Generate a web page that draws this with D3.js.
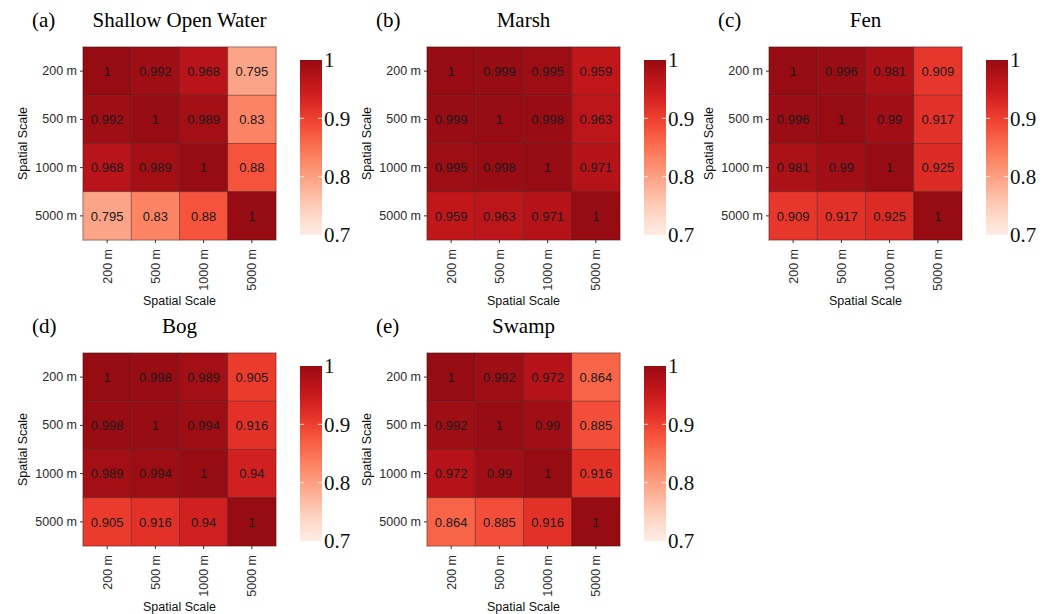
<!DOCTYPE html>
<html>
<head>
<meta charset="utf-8">
<script src="https://cdn.jsdelivr.net/npm/d3@7"></script>
<style>
  body { margin: 0; background: #fff; }
</style>
</head>
<body>
<div id="chart"></div>
<script>
// Spatial scales (rows and columns of each matrix)
const scales = ["200 m", "500 m", "1000 m", "5000 m"];

// Correlation matrices
const shallowOpenWater = [
  [1, 0.992, 0.968, 0.795],
  [0.992, 1, 0.989, 0.83],
  [0.968, 0.989, 1, 0.88],
  [0.795, 0.83, 0.88, 1]
];
const marsh = [
  [1, 0.999, 0.995, 0.959],
  [0.999, 1, 0.998, 0.963],
  [0.995, 0.998, 1, 0.971],
  [0.959, 0.963, 0.971, 1]
];
const fen = [
  [1, 0.996, 0.981, 0.909],
  [0.996, 1, 0.99, 0.917],
  [0.981, 0.99, 1, 0.925],
  [0.909, 0.917, 0.925, 1]
];
const bog = [
  [1, 0.998, 0.989, 0.905],
  [0.998, 1, 0.994, 0.916],
  [0.989, 0.994, 1, 0.94],
  [0.905, 0.916, 0.94, 1]
];
const swamp = [
  [1, 0.992, 0.972, 0.864],
  [0.992, 1, 0.99, 0.885],
  [0.972, 0.99, 1, 0.916],
  [0.864, 0.885, 0.916, 1]
];

const panelLabels = ["(a)", "(b)", "(c)", "(d)", "(e)"];
const panelTitles = ["Shallow Open Water", "Marsh", "Fen", "Bog", "Swamp"];
const matrices = [shallowOpenWater, marsh, fen, bog, swamp];
const legendTicks = [0.7, 0.8, 0.9, 1];

// Layout
const width = 1051, height = 614;
const size = 193;
const colLeft = [83, 427, 769];
const rowTop = [47, 353];
const sans = "'Liberation Sans', Arial, sans-serif";
const serif = "'Liberation Serif', 'Times New Roman', serif";

const svg = d3.select("#chart")
  .append("svg")
  .attr("width", width)
  .attr("height", height);

// Reds palette, limits 0.7 - 1
const norm = d3.scaleLinear().domain([0.7, 1]).range([0.05, 0.9]);
const color = v => d3.interpolateReds(norm(v));

// Gradient for colour bars
const grad = svg.append("defs").append("linearGradient")
  .attr("id", "redsGrad")
  .attr("x1", 0).attr("y1", 1).attr("x2", 0).attr("y2", 0);
d3.range(0, 1.0001, 0.05).forEach(t => {
  grad.append("stop")
    .attr("offset", t)
    .attr("stop-color", color(0.7 + 0.3 * t));
});

matrices.forEach((m, i) => {
  const left = colLeft[i % 3], top = rowTop[Math.floor(i / 3)];
  const g = svg.append("g").attr("transform", `translate(${left},${top})`);

  const x = d3.scaleBand().domain(scales).range([0, size]);
  const y = d3.scaleBand().domain(scales).range([0, size]);

  // Cells
  const cells = [];
  m.forEach((row, r) => row.forEach((v, c) => cells.push({ r: scales[r], c: scales[c], v })));

  g.append("rect")
    .attr("x", -0.5).attr("y", -0.5)
    .attr("width", size + 1).attr("height", size + 1)
    .attr("fill", "none").attr("stroke", "#dcdcdc");

  g.selectAll("rect.cell")
    .data(cells)
    .join("rect")
    .attr("class", "cell")
    .attr("x", d => x(d.c))
    .attr("y", d => y(d.r))
    .attr("width", x.bandwidth())
    .attr("height", y.bandwidth())
    .attr("fill", d => color(d.v))
    .attr("stroke", "rgba(50,10,10,0.5)")
    .attr("stroke-width", 0.7);

  g.selectAll("text.val")
    .data(cells)
    .join("text")
    .attr("class", "val")
    .attr("x", d => x(d.c) + x.bandwidth() / 2)
    .attr("y", d => y(d.r) + y.bandwidth() / 2)
    .attr("dy", "0.36em")
    .attr("text-anchor", "middle")
    .style("font-family", sans)
    .style("font-size", "13px")
    .attr("fill", "#1a1a1a")
    .text(d => String(d.v));

  // Y axis
  const yAxis = g.append("g")
    .call(d3.axisLeft(y).tickSize(3).tickPadding(3));
  yAxis.select(".domain").remove();
  yAxis.selectAll(".tick line").attr("stroke", "#333");
  yAxis.selectAll(".tick text")
    .style("font-family", sans).style("font-size", "12.5px").attr("fill", "#2b2b2b");

  // X axis
  const xAxis = g.append("g")
    .attr("transform", `translate(0,${size})`)
    .call(d3.axisBottom(x).tickSize(3).tickPadding(3));
  xAxis.select(".domain").remove();
  xAxis.selectAll(".tick line").attr("stroke", "#333");
  xAxis.selectAll(".tick text")
    .style("font-family", sans).style("font-size", "12.5px").attr("fill", "#2b2b2b")
    .attr("transform", "rotate(-90)")
    .attr("text-anchor", "end")
    .attr("x", -9).attr("y", 0).attr("dy", "0.35em");

  // Axis titles
  g.append("text")
    .attr("x", size / 2).attr("y", size + 65)
    .attr("text-anchor", "middle")
    .style("font-family", sans).style("font-size", "12.5px")
    .attr("fill", "#111")
    .text("Spatial Scale");
  g.append("text")
    .attr("transform", `translate(-56,${size / 2}) rotate(-90)`)
    .attr("text-anchor", "middle")
    .style("font-family", sans).style("font-size", "12.5px")
    .attr("fill", "#111")
    .text("Spatial Scale");

  // Panel label and title
  g.append("text")
    .attr("x", -51).attr("y", -20)
    .style("font-family", serif).style("font-size", "21px")
    .text(panelLabels[i]);
  g.append("text")
    .attr("x", size / 2).attr("y", -20)
    .attr("text-anchor", "middle")
    .style("font-family", serif).style("font-size", "21px")
    .text(panelTitles[i]);

  // Colour bar legend
  const lg = g.append("g").attr("transform", `translate(${size + 24},0)`);
  const ly = d3.scaleLinear().domain([0.7, 1]).range([188, 13]);
  lg.append("rect")
    .attr("x", 0).attr("y", ly(1))
    .attr("width", 22).attr("height", ly(0.7) - ly(1))
    .attr("fill", "url(#redsGrad)");
  lg.selectAll("g.tk")
    .data(legendTicks.slice(1, 3))
    .join("g")
    .attr("class", "tk")
    .each(function(d) {
      d3.select(this).append("line")
        .attr("x1", 0).attr("x2", 4).attr("y1", ly(d)).attr("y2", ly(d))
        .attr("stroke", "#fff").attr("stroke-width", 0.8);
      d3.select(this).append("line")
        .attr("x1", 18).attr("x2", 22).attr("y1", ly(d)).attr("y2", ly(d))
        .attr("stroke", "#fff").attr("stroke-width", 0.8);
    });
  const la = lg.append("g")
    .attr("transform", "translate(22,0)")
    .call(d3.axisRight(ly).tickValues(legendTicks).tickFormat(d => String(d)).tickSize(0).tickPadding(2));
  la.select(".domain").remove();
  la.selectAll(".tick text")
    .style("font-family", serif)
    .style("font-size", "21px")
    .attr("fill", "#111");
});
</script>
</body>
</html>
